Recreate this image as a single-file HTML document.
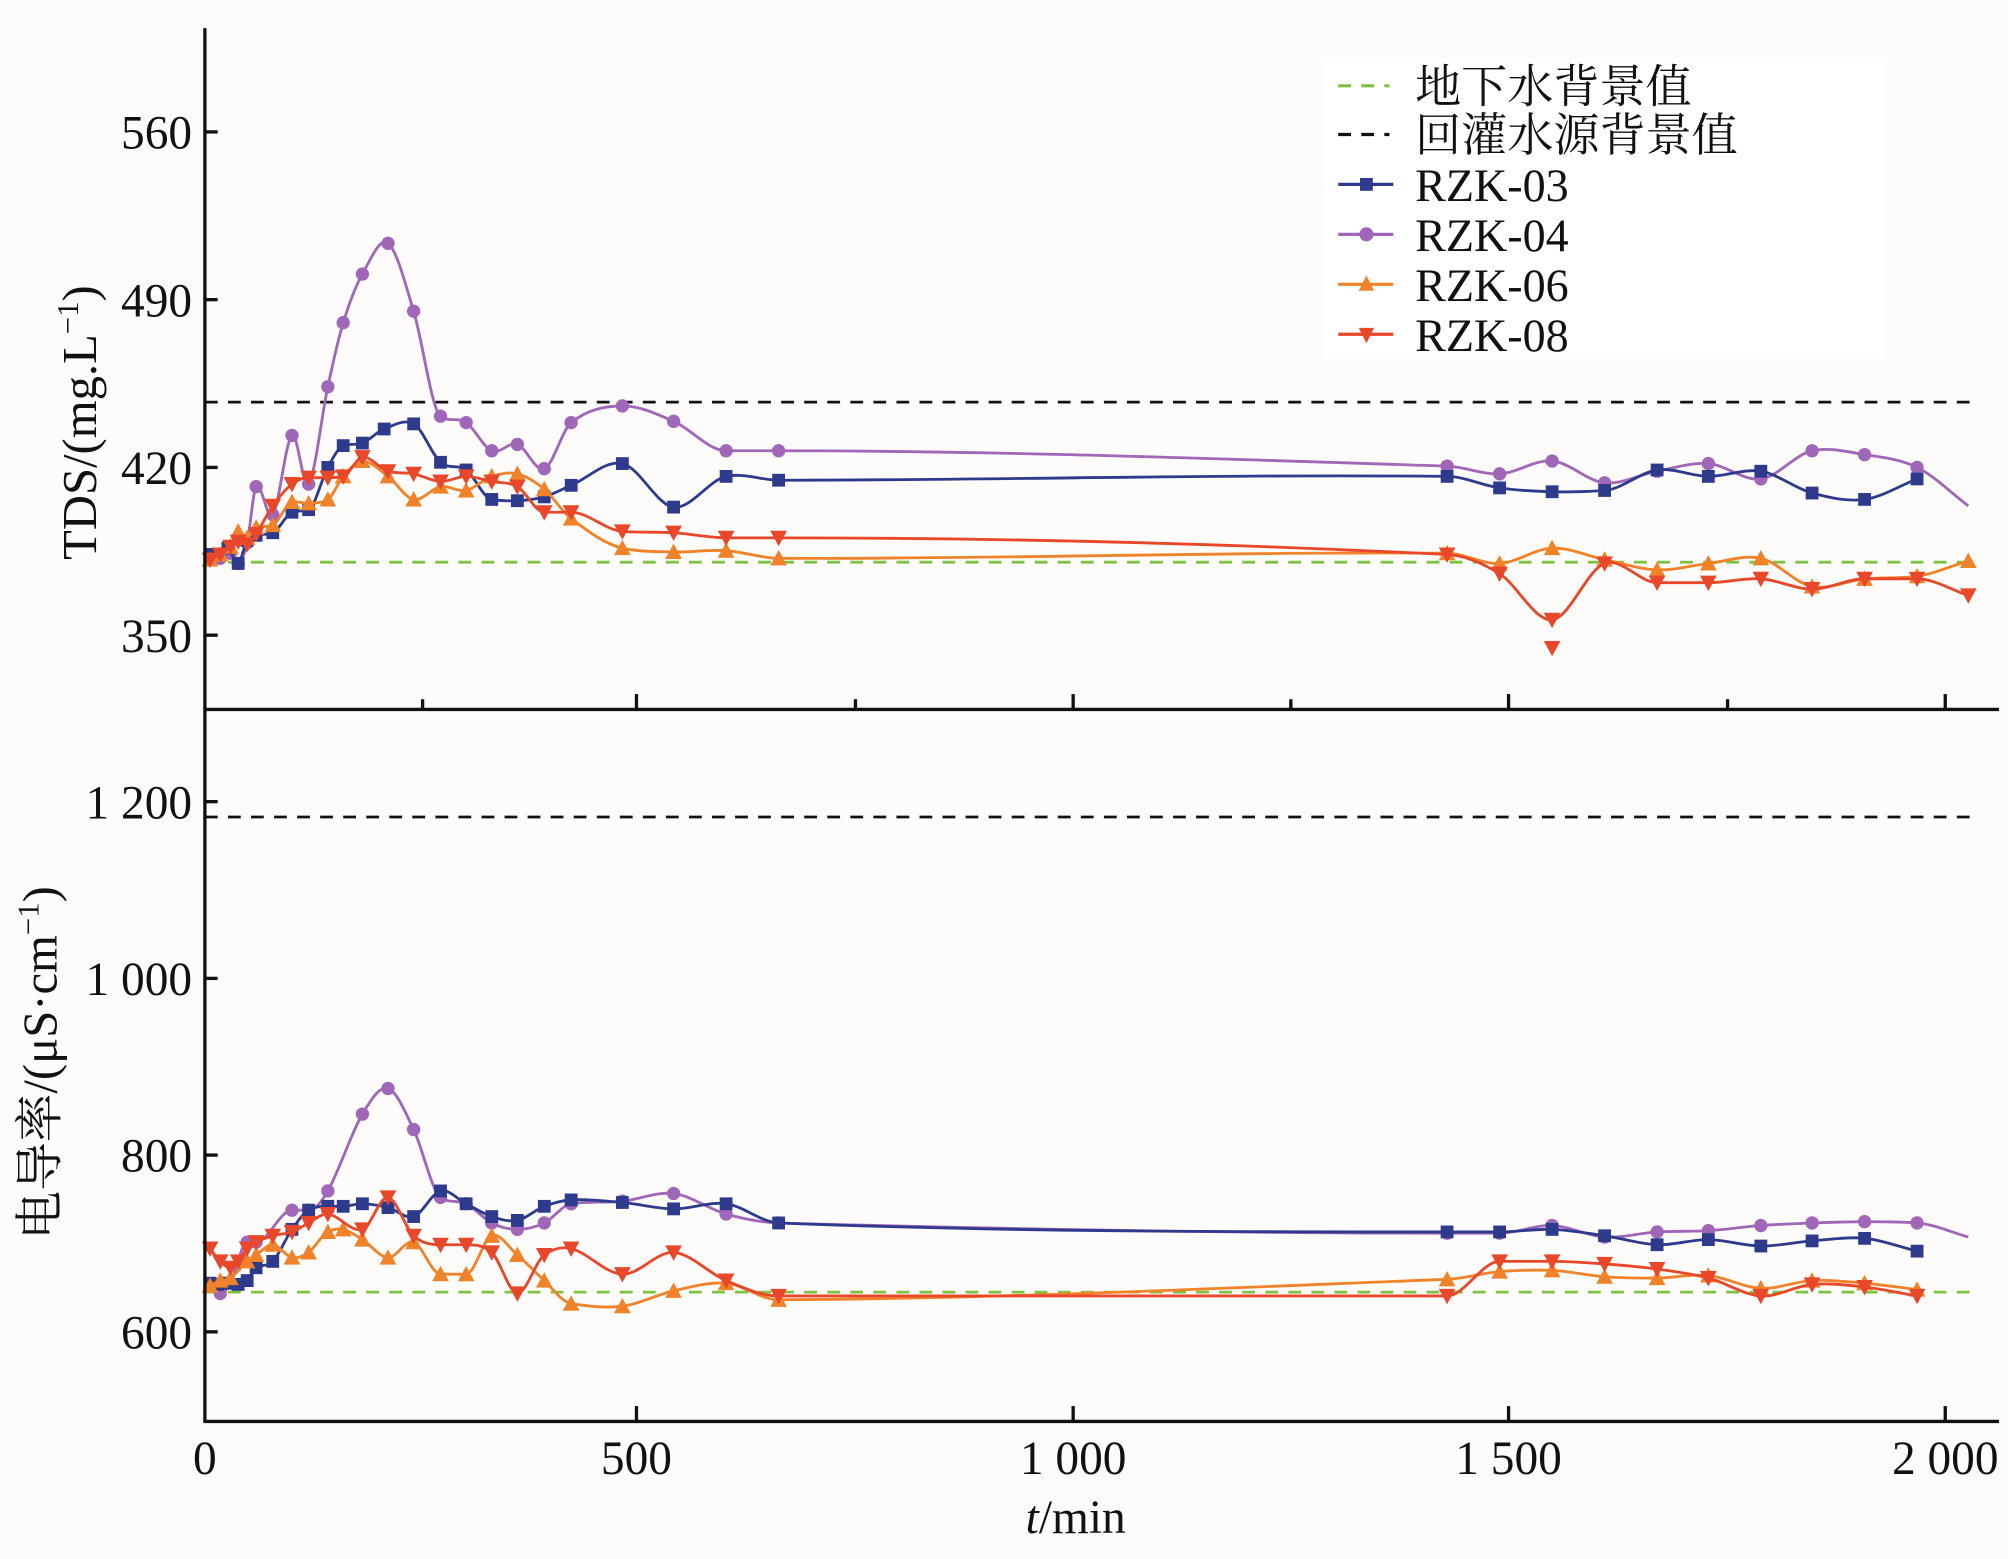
<!DOCTYPE html>
<html><head><meta charset="utf-8"><style>
html,body{margin:0;padding:0;background:#fdfcfb;}
svg{display:block;}
text{font-family:"Liberation Serif","Noto Serif CJK SC",serif;fill:#111;}
</style></head><body>
<svg id="s" width="2008" height="1559" viewBox="0 0 1568 1217.4" preserveAspectRatio="none" xmlns="http://www.w3.org/2000/svg">
<rect width="1568" height="1218" fill="#fdfcfb"/>
<rect x="1035" y="45" width="435" height="235" fill="#ffffff"/>
<g id="g"></g>
<g stroke="#111" stroke-width="2.6" fill="none">
<line x1="160" y1="22" x2="160" y2="1111"/>
<line x1="159" y1="554" x2="1561" y2="554"/>
<line x1="159" y1="1110" x2="1561" y2="1110"/>
<line x1="160" y1="103" x2="170" y2="103"/><line x1="160" y1="234" x2="170" y2="234"/>
<line x1="160" y1="365" x2="170" y2="365"/><line x1="160" y1="496" x2="170" y2="496"/>
<line x1="160" y1="626" x2="170" y2="626"/><line x1="160" y1="764" x2="170" y2="764"/>
<line x1="160" y1="902" x2="170" y2="902"/><line x1="160" y1="1040" x2="170" y2="1040"/>
<line x1="330" y1="554" x2="330" y2="546"/><line x1="497" y1="554" x2="497" y2="542"/>
<line x1="668" y1="554" x2="668" y2="546"/><line x1="838" y1="554" x2="838" y2="542"/>
<line x1="1008" y1="554" x2="1008" y2="546"/><line x1="1178" y1="554" x2="1178" y2="542"/>
<line x1="1349" y1="554" x2="1349" y2="546"/><line x1="1519" y1="554" x2="1519" y2="542"/>
<line x1="497" y1="1110" x2="497" y2="1098"/><line x1="838" y1="1110" x2="838" y2="1098"/>
<line x1="1178" y1="1110" x2="1178" y2="1098"/><line x1="1519" y1="1110" x2="1519" y2="1098"/>
</g>
<g font-size="37" text-anchor="end">
<text x="150" y="116">560</text><text x="150" y="247">490</text>
<text x="150" y="378">420</text><text x="150" y="509">350</text>
<text x="150" y="639">1 200</text><text x="150" y="777">1 000</text>
<text x="150" y="915">800</text><text x="150" y="1053">600</text>
</g>
<g font-size="37" text-anchor="middle">
<text x="160" y="1151">0</text><text x="497" y="1151">500</text>
<text x="838" y="1151">1 000</text><text x="1178" y="1151">1 500</text>
<text x="1519" y="1151">2 000</text>
<text x="840" y="1197"><tspan font-style="italic">t</tspan>/min</text>
</g>
<text font-size="38" text-anchor="middle" transform="translate(75,330) rotate(-90)">TDS/(mg.L<tspan font-size="24" dy="-14">−1</tspan><tspan dy="14">)</tspan></text>
<text font-size="38" text-anchor="middle" transform="translate(44,830) rotate(-90)">电导率/(μS·cm<tspan font-size="24" dy="-14">−1</tspan><tspan dy="14">)</tspan></text>
<g stroke-width="2.5" fill="none">
<line x1="1045" y1="67" x2="1085" y2="67" stroke="#7dc242" stroke-dasharray="10,8"/>
<line x1="1045" y1="105" x2="1085" y2="105" stroke="#111" stroke-dasharray="10,8"/>
<line x1="1045" y1="144" x2="1088" y2="144" stroke="#2e3a8c"/>
<line x1="1045" y1="183" x2="1088" y2="183" stroke="#a066b8"/>
<line x1="1045" y1="222" x2="1088" y2="222" stroke="#f0822a"/>
<line x1="1045" y1="261" x2="1088" y2="261" stroke="#e8472a"/>
</g>
<rect x="1062" y="139" width="10" height="10" fill="#2e3a8c"/>
<circle cx="1067" cy="183" r="5.5" fill="#a066b8"/>
<polygon points="1067,215 1073,227 1061,227" fill="#f0822a"/>
<polygon points="1061,256 1073,256 1067,268" fill="#e8472a"/>
<g font-size="36">
<text x="1105" y="80">地下水背景值</text>
<text x="1105" y="118">回灌水源背景值</text>
<text x="1105" y="157">RZK-03</text>
<text x="1105" y="196">RZK-04</text>
<text x="1105" y="235">RZK-06</text>
<text x="1105" y="274">RZK-08</text>
</g>
</svg>
<script>
const NS="http://www.w3.org/2000/svg",G=document.getElementById('g');
function el(t,a){const e=document.createElementNS(NS,t);for(const k in a)e.setAttribute(k,a[k]);G.appendChild(e);return e;}
function P(s){return s.trim().split(/\s+/).map(v=>v.split(',').map(Number));}
function path(p){const n=p.length,m=[];
for(let i=0;i<n;i++){const a=p[Math.max(0,i-1)],b=p[Math.min(n-1,i+1)];
let s=(b[1]-a[1])/(b[0]-a[0]);
// limit slope by neighbouring segment slopes
const sl=i>0?(p[i][1]-p[i-1][1])/(p[i][0]-p[i-1][0]):s, sr=i<n-1?(p[i+1][1]-p[i][1])/(p[i+1][0]-p[i][0]):s;
const lim=3*Math.min(Math.abs(sl),Math.abs(sr));if(Math.abs(s)>lim)s=Math.sign(s)*lim;
m.push(s);}
let d="M"+p[0][0]+","+p[0][1];
for(let i=0;i<n-1;i++){const dx=p[i+1][0]-p[i][0];
d+=` C${p[i][0]+dx/3},${p[i][1]+m[i]*dx/3} ${p[i+1][0]-dx/3},${p[i+1][1]-m[i+1]*dx/3} ${p[i+1][0]},${p[i+1][1]}`;}
return d;}
function mk(t,x,y,c){if(t=='s')el('rect',{x:x-5,y:y-5,width:10,height:10,fill:c});
else if(t=='c')el('circle',{cx:x,cy:y,r:5.2,fill:c});
else if(t=='u')el('polygon',{points:`${x},${y-6.5} ${x+6.5},${y+5.5} ${x-6.5},${y+5.5}`,fill:c});
else el('polygon',{points:`${x-6.5},${y-5.5} ${x+6.5},${y-5.5} ${x},${y+6.5}`,fill:c});}
function series(s,c,t,skipLast){const p=P(s);el('path',{d:path(p),stroke:c,'stroke-width':2.2,fill:'none'});
p.forEach((q,i)=>{if(!(skipLast&&i==p.length-1))mk(t,q[0],q[1],c);});}
el('line',{x1:160,y1:314,x2:1540,y2:314,stroke:'#111','stroke-width':2.2,'stroke-dasharray':'10,8'});
el('line',{x1:160,y1:439,x2:1540,y2:439,stroke:'#7dc242','stroke-width':2.2,'stroke-dasharray':'10,8'});
el('line',{x1:160,y1:638,x2:1540,y2:638,stroke:'#111','stroke-width':2.2,'stroke-dasharray':'10,8'});
el('line',{x1:160,y1:1009,x2:1540,y2:1009,stroke:'#7dc242','stroke-width':2.2,'stroke-dasharray':'10,8'});
const B='#2e3a8c',U='#a066b8',O='#f0822a',R='#e8472a';
series("164,437 172,436 180,432 186,440 193,424 200,380 213,402 228,340 241,378 256,302 268,252 283,214 303,190 323,243 344,325 364,330 384,352 404,347 425,366 446,330 486,317 526,329 567,352 608,352 1130,364 1171,370 1212,360 1253,377 1294,368 1334,362 1375,374 1415,352 1456,355 1497,365 1537,395",U,'c',true);
series("164,433 170,433 178,428 186,440 193,422 200,418 213,416 228,400 241,398 256,365 268,348 283,346 300,335 323,331 344,361 364,367 384,390 404,391 425,388 446,379 486,362 526,396 567,372 608,375 1130,372 1171,381 1212,384 1253,383 1294,367 1334,372 1375,368 1415,385 1456,390 1497,374",B,'s');
series("164,437 172,433 180,427 186,415 193,420 200,412 213,410 228,392 241,393 256,390 268,372 283,360 303,372 323,390 344,380 364,383 384,372 404,370 425,382 446,405 486,428 526,431 567,430 608,436 1130,432 1171,440 1212,428 1253,437 1294,445 1334,440 1375,436 1415,458 1456,452 1497,450 1537,438",O,'u');
series("164,437 172,433 180,427 186,423 193,425 200,417 213,395 228,378 241,373 256,373 268,372 283,357 303,368 323,370 344,376 364,372 384,376 404,380 425,400 446,400 486,415 526,416 567,420 608,420 1130,433 1171,448 1212,484 1253,440 1294,455 1334,455 1375,452 1415,460 1456,452 1497,452 1537,465",R,'d');
mk('d',1212,506,R);
series("164,1003 172,1010 180,1002 193,970 200,970 228,945 241,945 256,930 283,870 303,850 323,882 344,935 364,940 384,955 404,960 425,955 446,940 486,938 526,932 567,948 608,955 1130,963 1171,963 1212,957 1253,966 1294,962 1334,961 1375,957 1415,955 1456,954 1497,955 1537,966",U,'c',true);
series("164,1002 170,1003 178,1002 186,1003 193,1000 200,990 213,985 228,960 241,945 256,942 268,942 283,940 303,943 323,950 344,930 364,940 384,950 404,953 425,942 446,937 486,939 526,944 567,940 608,955 1130,962 1171,962 1212,960 1253,965 1294,972 1334,968 1375,973 1415,969 1456,967 1497,977",B,'s');
series("164,1004 172,1000 180,998 193,985 200,980 213,972 228,982 241,978 256,962 268,960 283,968 303,982 323,970 344,995 364,995 384,965 404,980 425,1000 446,1018 486,1020 526,1008 567,1002 608,1015 1130,999 1171,993 1212,992 1253,997 1294,998 1334,996 1375,1006 1415,1000 1456,1002 1497,1007",O,'u');
series("164,975 172,985 180,990 186,985 193,975 200,970 213,965 228,962 241,955 256,948 283,960 303,935 323,965 344,972 364,972 384,978 404,1010 425,980 446,975 486,995 526,978 567,1000 608,1012 1130,1012 1171,985 1212,985 1253,987 1294,991 1334,998 1375,1012 1415,1003 1456,1005 1497,1012",R,'d');
</script>
</body></html>
